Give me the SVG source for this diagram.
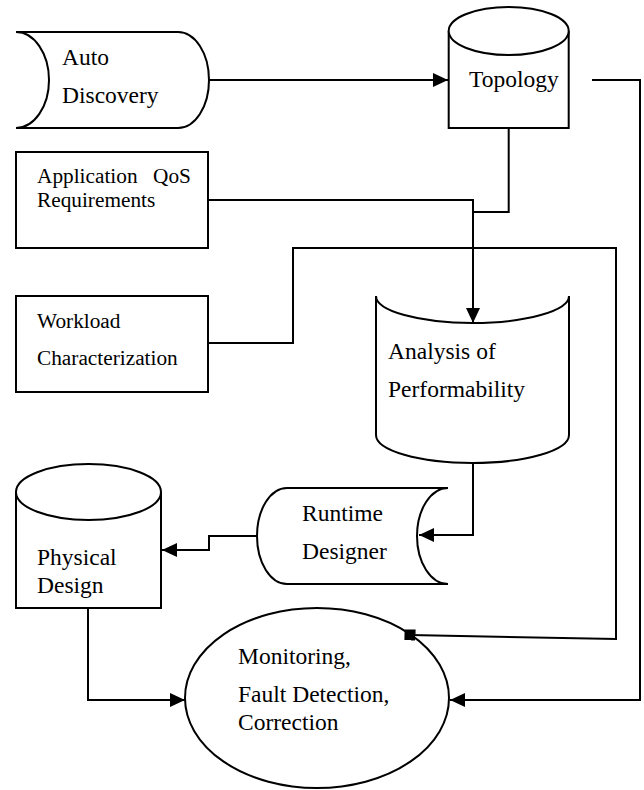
<svg xmlns="http://www.w3.org/2000/svg" width="644" height="790" viewBox="0 0 644 790">
<style>
  .shape { fill: #fff; stroke: #000; stroke-width: 2; }
  .conn { fill: none; stroke: #000; stroke-width: 2; }
  .big { font-family: "Liberation Serif", "Times New Roman", serif; font-size: 23.5px; fill: #000; }
  .small { font-family: "Liberation Serif", "Times New Roman", serif; font-size: 21.3px; fill: #000; }
</style>
<defs>
  <marker id="arrow" markerUnits="userSpaceOnUse" markerWidth="16" markerHeight="15" refX="15" refY="7" orient="auto">
    <path d="M0,0 L15,7 L0,14 z" fill="#000"/>
  </marker>
  <marker id="square" markerUnits="userSpaceOnUse" markerWidth="12" markerHeight="12" refX="5.5" refY="5.5" orient="auto">
    <rect x="0" y="0" width="11" height="11" fill="#000"/>
  </marker>
</defs>
<rect width="644" height="790" fill="#fff"/>

<g id="auto-discovery">
  <path class="shape" d="M16,32 L178,32 A31,48 0 0 1 178,128 L16,128 A33,48 0 0 0 16,32 z"/>
  <text class="big" x="62" y="65">Auto</text>
  <text class="big" x="62" y="103">Discovery</text>
</g>

<g id="topology">
  <path class="shape" d="M448.7,31 L448.7,128 L568.7,128 L568.7,31"/>
  <ellipse class="shape" cx="508.7" cy="31" rx="60" ry="24"/>
  <text class="big" x="469" y="87">Topology</text>
</g>

<g id="application-qos">
  <rect class="shape" x="16" y="152" width="192" height="96"/>
  <text class="small" x="37" y="183">Application<tspan x="153">QoS</tspan></text>
  <text class="small" x="37" y="207">Requirements</text>
</g>

<g id="workload">
  <rect class="shape" x="16" y="296" width="192" height="96"/>
  <text class="small" x="37" y="328">Workload</text>
  <text class="small" x="37" y="365">Characterization</text>
</g>

<g id="analysis">
  <path class="shape" d="M376,296 A96.5,27 0 0 0 569,296 L569,435 A96.5,28 0 0 1 376,435 z"/>
  <text class="big" x="388" y="359">Analysis of</text>
  <text class="big" x="388" y="397">Performability</text>
</g>

<g id="runtime-designer">
  <path class="shape" d="M287,488 L448,488 A31,48 0 0 0 448,584 L287,584 A30,48 0 0 1 287,488 z"/>
  <text class="big" x="302" y="521">Runtime</text>
  <text class="big" x="302" y="559">Designer</text>
</g>

<g id="physical-design">
  <path class="shape" d="M16,492 L16,608 L161,608 L161,492"/>
  <ellipse class="shape" cx="88.5" cy="492" rx="72.5" ry="28"/>
  <text class="big" x="37" y="565">Physical</text>
  <text class="big" x="37" y="593">Design</text>
</g>

<g id="monitoring">
  <ellipse class="shape" cx="317" cy="698" rx="132" ry="90"/>
  <text class="big" x="238" y="664">Monitoring,</text>
  <text class="big" x="238" y="702">Fault Detection,</text>
  <text class="big" x="238" y="730">Correction</text>
</g>

<g id="connectors">
  <path class="conn" d="M209,80 L448,80" marker-end="url(#arrow)"/>
  <path class="conn" d="M592,80 L640,80 L640,700 L450,700" marker-end="url(#arrow)"/>
  <path class="conn" d="M508.7,128 L508.7,212 L473,212"/>
  <path class="conn" d="M208,200 L473,200 L473,323" marker-end="url(#arrow)"/>
  <path class="conn" d="M208,343 L293,343 L293,248 L616,248 L616,639 L410,635" marker-end="url(#square)"/>
  <path class="conn" d="M473,463 L473,535 L419,535" marker-end="url(#arrow)"/>
  <path class="conn" d="M257,536 L209,536 L209,550 L162,550" marker-end="url(#arrow)"/>
  <path class="conn" d="M88,608 L88,700 L185,700" marker-end="url(#arrow)"/>
</g>
</svg>
